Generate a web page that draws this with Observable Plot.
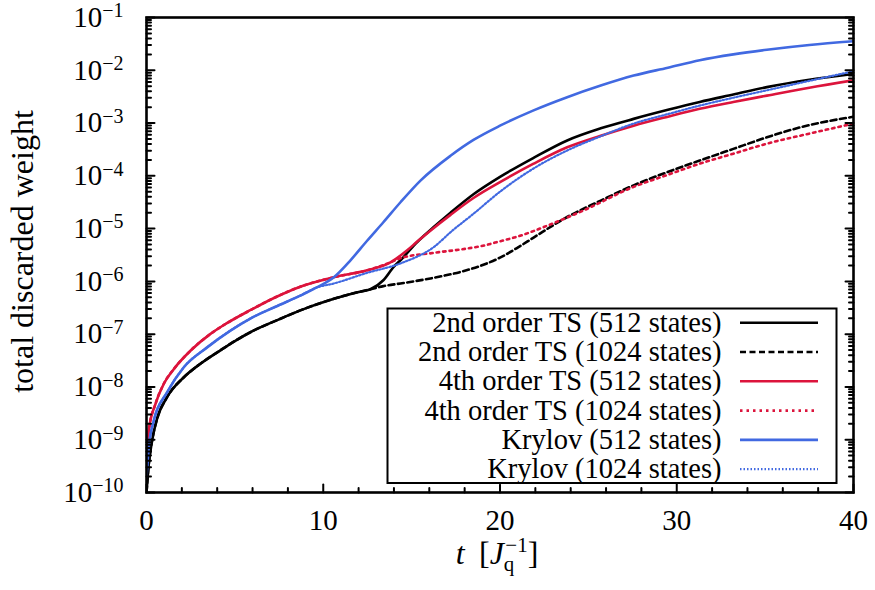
<!DOCTYPE html>
<html><head><meta charset="utf-8">
<script src="https://cdn.jsdelivr.net/npm/d3@7"></script>
<script src="https://cdn.jsdelivr.net/npm/@observablehq/plot@0.6"></script>
<style>
  body { margin: 0; background: #fff; }
  #chart svg { display: block; }
</style>
</head><body><div id="chart"></div>
<script>
// ---- data ----
const ts2_512_t = [0, 0.13, 0.32, 0.6, 1.17, 2.1, 3.05, 4.2, 5.0, 5.9, 7.5, 8.7, 10.6, 12.0, 12.67, 13.4, 14.0, 14.37, 15.3, 16.25, 17.2, 18.5, 20.0, 21.9, 23.8, 25.7, 27.56, 29.5, 31.3, 33.2, 35.1, 37.5, 40];
const ts2_512_v = [1.0e-10, 3.47e-10, 9.8e-10, 2.51e-9, 6.46e-9, 1.51e-8, 2.75e-8, 5.0e-8, 7.41e-8, 1.10e-7, 1.91e-7, 2.82e-7, 4.68e-7, 6.31e-7, 7.08e-7, 1.05e-6, 1.91e-6, 2.51e-6, 5.5e-6, 1.07e-5, 2.0e-5, 4.47e-5, 9.55e-5, 2.19e-4, 4.68e-4, 7.94e-4, 1.20e-3, 1.78e-3, 2.51e-3, 3.47e-3, 4.79e-3, 6.61e-3, 8.51e-3];

const ts2_1024_t = [0, 0.13, 0.32, 0.6, 1.17, 2.1, 3.05, 4.2, 5.0, 5.9, 7.5, 8.7, 10.6, 12.0, 12.67, 13.4, 14.37, 16.25, 18.1, 19.1, 20.0, 21.0, 21.9, 23.8, 25.7, 27.56, 29.45, 31.3, 33.2, 35.1, 37.0, 40];
const ts2_1024_v = [1.0e-10, 3.47e-10, 9.8e-10, 2.51e-9, 6.46e-9, 1.51e-8, 2.75e-8, 5.0e-8, 7.41e-8, 1.10e-7, 1.91e-7, 2.82e-7, 4.68e-7, 6.31e-7, 7.08e-7, 8.13e-7, 9.12e-7, 1.17e-6, 1.62e-6, 2.09e-6, 2.82e-6, 4.37e-6, 6.76e-6, 1.66e-5, 3.39e-5, 6.61e-5, 1.17e-4, 1.95e-4, 3.24e-4, 5.37e-4, 8.32e-4, 1.32e-3];

const ts4_512_t = [0, 0.13, 0.51, 0.98, 1.55, 2.5, 3.6, 4.5, 5.9, 7.3, 8.7, 10.6, 12.48, 13.8, 14.75, 15.3, 16.06, 17.2, 18.5, 20.0, 21.9, 23.8, 25.7, 27.56, 29.5, 31.3, 33.2, 35.1, 37.5, 40];
const ts4_512_v = [3.16e-10, 1.51e-9, 4.79e-9, 1.15e-8, 2.19e-8, 4.9e-8, 1.0e-7, 1.58e-7, 2.88e-7, 5.01e-7, 7.94e-7, 1.20e-6, 1.62e-6, 2.29e-6, 3.89e-6, 5.62e-6, 9.12e-6, 1.82e-5, 3.80e-5, 7.59e-5, 1.70e-4, 3.47e-4, 5.75e-4, 8.91e-4, 1.32e-3, 1.86e-3, 2.51e-3, 3.31e-3, 4.68e-3, 6.46e-3];

const ts4_1024_t = [0, 0.13, 0.51, 0.98, 1.55, 2.5, 3.6, 4.5, 5.9, 7.3, 8.7, 10.6, 12.48, 13.8, 14.37, 16.25, 18.1, 19.1, 20.0, 21.0, 22.85, 24.7, 27.56, 29.5, 31.3, 33.2, 35.1, 37.5, 40];
const ts4_1024_v = [3.16e-10, 1.51e-9, 4.79e-9, 1.15e-8, 2.19e-8, 4.9e-8, 1.0e-7, 1.58e-7, 2.88e-7, 5.01e-7, 7.94e-7, 1.20e-6, 1.62e-6, 2.29e-6, 2.75e-6, 3.47e-6, 4.17e-6, 4.79e-6, 5.75e-6, 7.08e-6, 1.20e-5, 2.19e-5, 6.17e-5, 1.05e-4, 1.70e-4, 2.63e-4, 4.07e-4, 6.31e-4, 9.77e-4];

const kry_512_t = [0, 0.13, 0.41, 1.17, 2.1, 3.43, 4.75, 5.9, 7.3, 8.7, 9.6, 10.6, 11.54, 12.48, 13.4, 14.37, 15.5, 17.2, 18.5, 20.0, 21.9, 23.8, 25.7, 27.56, 29.5, 31.3, 33.2, 35.1, 37.5, 40];
const kry_512_v = [2.0e-10, 7.24e-10, 2.29e-9, 7.94e-9, 2.34e-8, 5.62e-8, 1.17e-7, 2.0e-7, 3.31e-7, 5.37e-7, 7.59e-7, 1.20e-6, 2.51e-6, 5.89e-6, 1.32e-5, 3.16e-5, 8.13e-5, 2.4e-4, 4.79e-4, 8.91e-4, 1.74e-3, 3.09e-3, 5.13e-3, 7.94e-3, 1.12e-2, 1.55e-2, 2.0e-2, 2.45e-2, 3.02e-2, 3.55e-2];

const kry_1024_t = [0, 0.13, 0.41, 1.17, 2.1, 3.43, 4.75, 5.9, 7.3, 8.7, 9.6, 10.6, 12.48, 14.37, 16.25, 17.3, 18.5, 20.0, 21.9, 23.8, 25.7, 27.56, 29.5, 31.3, 33.2, 35.1, 37.5, 40];
const kry_1024_v = [2.0e-10, 7.24e-10, 2.29e-9, 7.94e-9, 2.34e-8, 5.62e-8, 1.17e-7, 2.0e-7, 3.31e-7, 5.37e-7, 7.59e-7, 9.12e-7, 1.45e-6, 2.19e-6, 4.47e-6, 9.12e-6, 1.91e-5, 5.01e-5, 1.38e-4, 3.02e-4, 5.62e-4, 9.77e-4, 1.48e-3, 2.14e-3, 3.02e-3, 4.17e-3, 6.31e-3, 9.55e-3];

const seriesLabels = ["2nd order TS (512 states)", "2nd order TS (1024 states)", "4th order TS (512 states)", "4th order TS (1024 states)", "Krylov (512 states)", "Krylov (1024 states)"];

const xTicks = [0, 10, 20, 30, 40];
const xMinorTicks = [2, 4, 6, 8, 12, 14, 16, 18, 22, 24, 26, 28, 32, 34, 36, 38];
const yTicks = [1e-10, 1e-9, 1e-8, 1e-7, 1e-6, 1e-5, 1e-4, 1e-3, 1e-2, 1e-1];
const yTickExponents = ["−10", "−9", "−8", "−7", "−6", "−5", "−4", "−3", "−2", "−1"];
const yMinorMantissas = [2, 3, 4, 5, 6, 7, 8, 9];

// ---- styles ----
const styles = [
  {stroke: "#000000", width: 2.6, dash: null},
  {stroke: "#000000", width: 2.6, dash: "6,3.5"},
  {stroke: "#dc143c", width: 2.6, dash: null},
  {stroke: "#dc143c", width: 2.6, dash: "2.5,4"},
  {stroke: "#4169e1", width: 2.6, dash: null},
  {stroke: "#4169e1", width: 2.2, dash: "1.5,2"}
];
const seriesData = [
  [ts2_512_t, ts2_512_v], [ts2_1024_t, ts2_1024_v],
  [ts4_512_t, ts4_512_v], [ts4_1024_t, ts4_1024_v],
  [kry_512_t, kry_512_v], [kry_1024_t, kry_1024_v]
].map(([t, v], k) => t.map((ti, i) => ({t: ti, v: v[i], s: k})));

const yMinorTicks = [];
for (const d of yTicks.slice(0, -1)) for (const m of yMinorMantissas) yMinorTicks.push(d * m);

const tickShape = {draw(context, l) { context.moveTo(0, 0); context.lineTo(0, -l); }};
const tickOpts = (len) => ({length: len, anchor: "start", shape: tickShape, stroke: "black", strokeWidth: 2});

const FONT = "'Liberation Serif', 'Times New Roman', serif";

const chart = Plot.plot({
  width: 875,
  height: 590,
  marginLeft: 146,
  marginRight: 22,
  marginTop: 17,
  marginBottom: 98,
  style: {fontFamily: FONT, fontSize: "29px", color: "black", background: "white"},
  x: {type: "linear", domain: [0, 40]},
  y: {type: "log", domain: [1e-10, 1e-1]},
  marks: [
    ...seriesData.map((data, k) => Plot.line(data, {
      x: "t", y: "v", stroke: styles[k].stroke, strokeWidth: styles[k].width,
      strokeDasharray: styles[k].dash, curve: "monotone-x", clip: true
    })),
    // inward ticks
    Plot.vector(xTicks, {x: d => d, frameAnchor: "bottom", rotate: 0, ...tickOpts(8)}),
    Plot.vector(xMinorTicks, {x: d => d, frameAnchor: "bottom", rotate: 0, ...tickOpts(4.5)}),
    Plot.vector(yTicks, {y: d => d, frameAnchor: "left", rotate: 90, ...tickOpts(8)}),
    Plot.vector(yMinorTicks, {y: d => d, frameAnchor: "left", rotate: 90, ...tickOpts(4.5)}),
    Plot.vector(yTicks, {y: d => d, frameAnchor: "right", rotate: -90, ...tickOpts(8)}),
    Plot.vector(yMinorTicks, {y: d => d, frameAnchor: "right", rotate: -90, ...tickOpts(4.5)}),
    Plot.axisX({ticks: xTicks, tickSize: 0, tickPadding: 17, label: null, fontFamily: FONT, fontSize: 29,
      tickFormat: d => String(d)}),
    Plot.axisY({ticks: yTicks, tickSize: 0, tickPadding: 23, label: null, fontFamily: FONT, fontSize: 29,
      tickFormat: d => "10^" + yTickExponents[yTicks.indexOf(d)]}),
    Plot.frame({stroke: "black", strokeWidth: 2.6})
  ]
});

document.getElementById("chart").appendChild(chart);

const svg = d3.select(chart);

// superscript exponents on y tick labels
svg.selectAll('g[aria-label="y-axis tick label"] text').each(function () {
  const s = this.textContent;
  const [base, exp] = s.split("^");
  const t = d3.select(this);
  t.text(base);
  t.append("tspan").attr("dy", -9.5).attr("font-size", 20).text(exp);
});

// y axis title
svg.append("text")
  .attr("transform", "translate(33,251.5) rotate(-90)")
  .attr("text-anchor", "middle")
  .attr("font-family", FONT)
  .attr("font-size", 32)
  .attr("fill", "black")
  .text("total discarded weight");

// x axis title: t [J_q^-1]
const xl = svg.append("text")
  .attr("x", 497).attr("y", 564)
  .attr("text-anchor", "middle")
  .attr("font-family", FONT)
  .attr("font-size", 32)
  .attr("fill", "black");
xl.append("tspan").attr("font-style", "italic").text("t");
xl.append("tspan").text("\u2009 [");
xl.append("tspan").attr("font-style", "italic").text("J");
xl.append("tspan").attr("font-size", 21).attr("dy", 7).text("q");
xl.append("tspan").attr("font-size", 21).attr("dx", -9).attr("dy", -19).text("−1");
xl.append("tspan").attr("dy", 12).text("]");

// legend box
const lg = svg.append("g").attr("font-family", FONT).attr("font-size", 28.5);
lg.append("rect").attr("x", 387.5).attr("y", 308.5).attr("width", 449).attr("height", 174.5)
  .attr("fill", "white").attr("stroke", "black").attr("stroke-width", 2);
seriesLabels.forEach((label, i) => {
  const yy = 322.7 + 29.3 * i;
  lg.append("text").attr("x", 721.5).attr("y", yy + 9).attr("text-anchor", "end")
    .attr("fill", "black").text(label);
  lg.append("line").attr("x1", 740).attr("x2", 818).attr("y1", yy).attr("y2", yy)
    .attr("stroke", styles[i].stroke).attr("stroke-width", styles[i].width)
    .attr("stroke-dasharray", styles[i].dash);
});
</script>
</body></html>
